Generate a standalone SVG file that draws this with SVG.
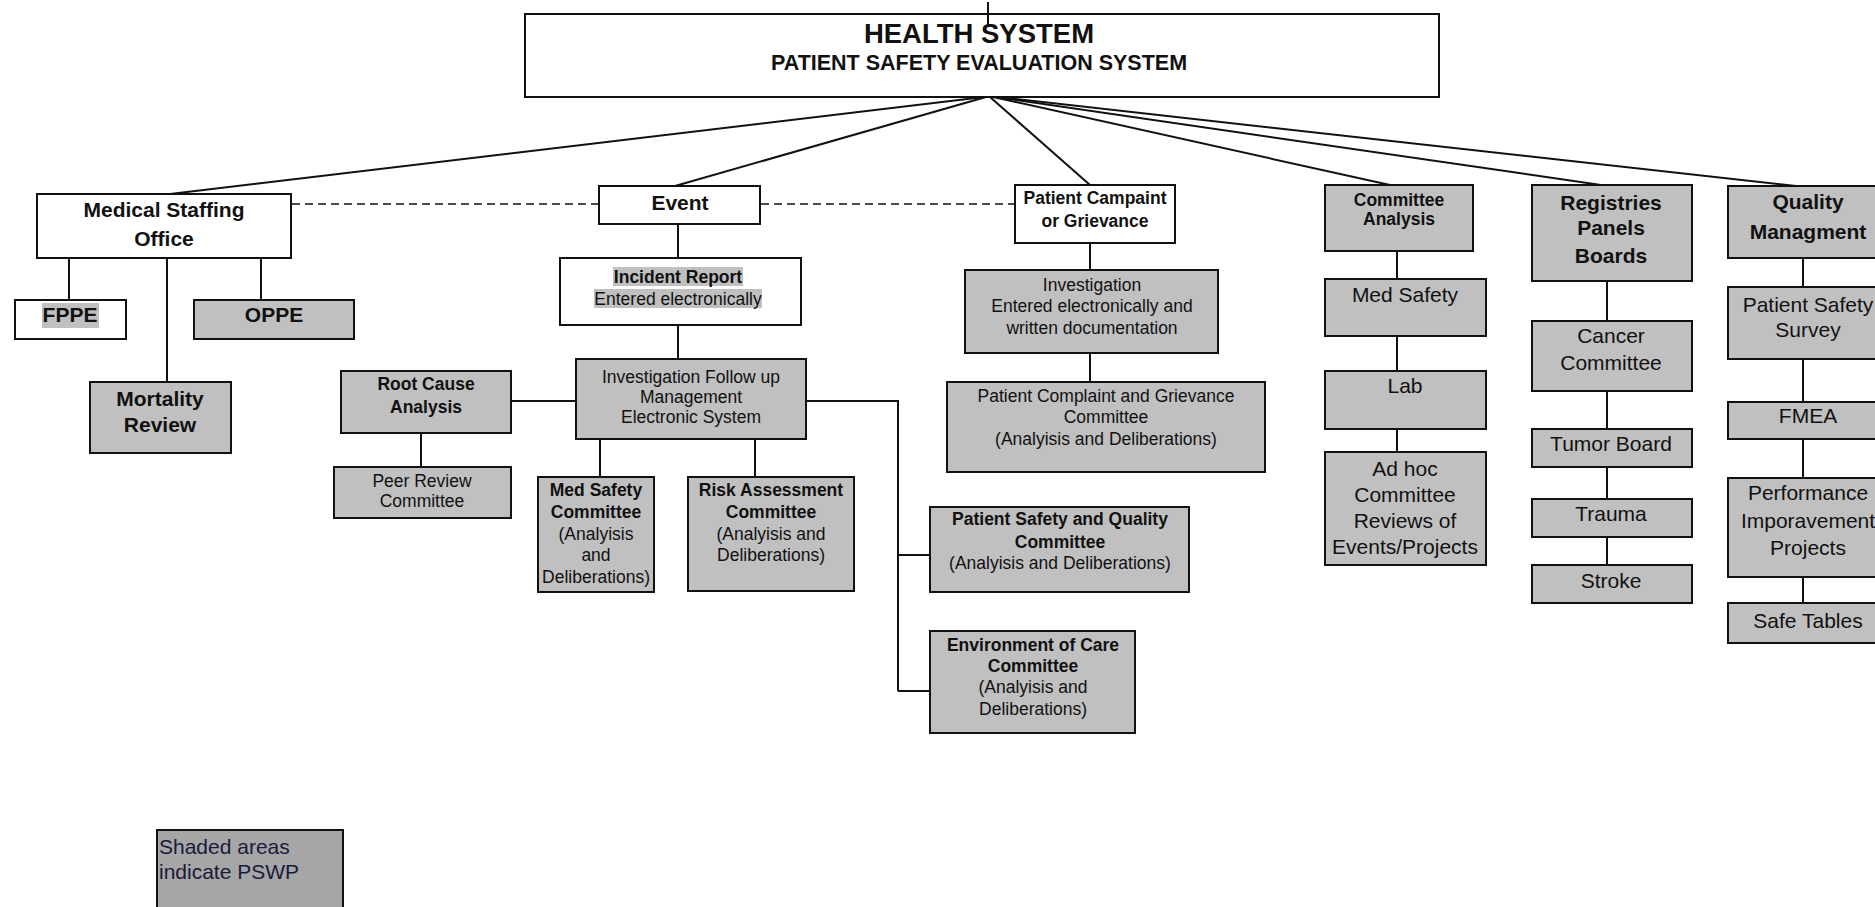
<svg xmlns="http://www.w3.org/2000/svg" width="1875" height="907" viewBox="0 0 1875 907">
  <style>
    .box { stroke: #111; stroke-width: 2; }
    .white { fill: #ffffff; }
    .gray { fill: #c0c0c0; }
    .legend { fill: #a6a6a6; }
    .hl { fill: #c0c0c0; }
    .conn { stroke: #111; stroke-width: 2; fill: none; }
    .dash { stroke: #111; stroke-width: 1.6; fill: none; stroke-dasharray: 8 5; }
    text { font-family: "Liberation Sans", Arial, Helvetica, sans-serif; fill: #111; text-anchor: middle; }
    .b { font-weight: bold; }
    .s { font-size: 17.5px; }
    .m { font-size: 21px; }
    .t1 { font-size: 27.5px; font-weight: bold; }
    .t2 { font-size: 21.5px; font-weight: bold; }
    .leg { text-anchor: start; fill: #1a1a3a; }
  </style>
  <rect width="1875" height="907" fill="#ffffff"/>

  <g id="health-system">
    <rect class="box white" x="525" y="14" width="914" height="83"/>
    <text class="t1" x="979" y="43">HEALTH SYSTEM</text>
    <text class="t2" x="979" y="70">PATIENT SAFETY EVALUATION SYSTEM</text>
  </g>

  <g id="medical-staffing-office">
    <rect class="box white" x="37" y="194" width="254" height="64"/>
    <text class="m b" x="164" y="217">Medical Staffing</text>
    <text class="m b" x="164" y="246">Office</text>
  </g>
  <g id="fppe">
    <rect class="box white" x="15" y="300" width="111" height="39"/>
    <rect class="hl" x="42" y="303" width="57" height="25"/>
    <text class="m b" x="70" y="322">FPPE</text>
  </g>
  <g id="oppe">
    <rect class="box gray" x="194" y="300" width="160" height="39"/>
    <text class="m b" x="274" y="322">OPPE</text>
  </g>
  <g id="mortality-review">
    <rect class="box gray" x="90" y="382" width="141" height="71"/>
    <text class="m b" x="160" y="406">Mortality</text>
    <text class="m b" x="160" y="432">Review</text>
  </g>

  <g id="event">
    <rect class="box white" x="599" y="186" width="161" height="38"/>
    <text class="m b" x="680" y="210">Event</text>
  </g>
  <g id="incident-report">
    <rect class="box white" x="560" y="258" width="241" height="67"/>
    <rect class="hl" x="613" y="267" width="130" height="19"/>
    <rect class="hl" x="594" y="289" width="168" height="19"/>
    <text class="s b" x="678" y="283">Incident Report</text>
    <text class="s" x="678" y="305">Entered electronically</text>
  </g>
  <g id="investigation-follow-up">
    <rect class="box gray" x="576" y="359" width="230" height="80"/>
    <text class="s" x="691" y="383">Investigation Follow up</text>
    <text class="s" x="691" y="403">Management</text>
    <text class="s" x="691" y="423">Electronic System</text>
  </g>
  <g id="root-cause-analysis">
    <rect class="box gray" x="341" y="371" width="170" height="62"/>
    <text class="s b" x="426" y="390">Root Cause</text>
    <text class="s b" x="426" y="413">Analysis</text>
  </g>
  <g id="peer-review-committee">
    <rect class="box gray" x="334" y="467" width="177" height="51"/>
    <text class="s" x="422" y="487">Peer Review</text>
    <text class="s" x="422" y="507">Committee</text>
  </g>
  <g id="med-safety-committee">
    <rect class="box gray" x="538" y="477" width="116" height="115"/>
    <text class="s b" x="596" y="496">Med Safety</text>
    <text class="s b" x="596" y="518">Committee</text>
    <text class="s" x="596" y="540">(Analyisis</text>
    <text class="s" x="596" y="561">and</text>
    <text class="s" x="596" y="583">Deliberations)</text>
  </g>
  <g id="risk-assessment-committee">
    <rect class="box gray" x="688" y="477" width="166" height="114"/>
    <text class="s b" x="771" y="496">Risk Assessment</text>
    <text class="s b" x="771" y="518">Committee</text>
    <text class="s" x="771" y="540">(Analyisis and</text>
    <text class="s" x="771" y="561">Deliberations)</text>
  </g>
  <g id="patient-safety-quality-committee">
    <rect class="box gray" x="930" y="507" width="259" height="85"/>
    <text class="s b" x="1060" y="525">Patient Safety and Quality</text>
    <text class="s b" x="1060" y="548">Committee</text>
    <text class="s" x="1060" y="569">(Analyisis and Deliberations)</text>
  </g>
  <g id="environment-of-care-committee">
    <rect class="box gray" x="930" y="631" width="205" height="102"/>
    <text class="s b" x="1033" y="651">Environment of Care</text>
    <text class="s b" x="1033" y="672">Committee</text>
    <text class="s" x="1033" y="693">(Analyisis and</text>
    <text class="s" x="1033" y="715">Deliberations)</text>
  </g>

  <g id="patient-complaint">
    <rect class="box white" x="1015" y="185" width="160" height="58"/>
    <text class="s b" x="1095" y="204">Patient Campaint</text>
    <text class="s b" x="1095" y="227">or Grievance</text>
  </g>
  <g id="investigation">
    <rect class="box gray" x="965" y="270" width="253" height="83"/>
    <text class="s" x="1092" y="291">Investigation</text>
    <text class="s" x="1092" y="312">Entered electronically and</text>
    <text class="s" x="1092" y="334">written documentation</text>
  </g>
  <g id="complaint-grievance-committee">
    <rect class="box gray" x="947" y="382" width="318" height="90"/>
    <text class="s" x="1106" y="402">Patient Complaint and Grievance</text>
    <text class="s" x="1106" y="423">Committee</text>
    <text class="s" x="1106" y="445">(Analyisis and Deliberations)</text>
  </g>

  <g id="committee-analysis">
    <rect class="box gray" x="1325" y="185" width="148" height="66"/>
    <text class="s b" x="1399" y="206">Committee</text>
    <text class="s b" x="1399" y="225">Analysis</text>
  </g>
  <g id="med-safety">
    <rect class="box gray" x="1325" y="279" width="161" height="57"/>
    <text class="m" x="1405" y="302">Med Safety</text>
  </g>
  <g id="lab">
    <rect class="box gray" x="1325" y="371" width="161" height="58"/>
    <text class="m" x="1405" y="393">Lab</text>
  </g>
  <g id="ad-hoc-committee">
    <rect class="box gray" x="1325" y="452" width="161" height="113"/>
    <text class="m" x="1405" y="476">Ad hoc</text>
    <text class="m" x="1405" y="502">Committee</text>
    <text class="m" x="1405" y="528">Reviews of</text>
    <text class="m" x="1405" y="554">Events/Projects</text>
  </g>

  <g id="registries">
    <rect class="box gray" x="1532" y="185" width="160" height="96"/>
    <text class="m b" x="1611" y="210">Registries</text>
    <text class="m b" x="1611" y="235">Panels</text>
    <text class="m b" x="1611" y="263">Boards</text>
  </g>
  <g id="cancer-committee">
    <rect class="box gray" x="1532" y="321" width="160" height="70"/>
    <text class="m" x="1611" y="343">Cancer</text>
    <text class="m" x="1611" y="370">Committee</text>
  </g>
  <g id="tumor-board">
    <rect class="box gray" x="1532" y="429" width="160" height="38"/>
    <text class="m" x="1611" y="451">Tumor Board</text>
  </g>
  <g id="trauma">
    <rect class="box gray" x="1532" y="499" width="160" height="38"/>
    <text class="m" x="1611" y="521">Trauma</text>
  </g>
  <g id="stroke">
    <rect class="box gray" x="1532" y="565" width="160" height="38"/>
    <text class="m" x="1611" y="588">Stroke</text>
  </g>

  <g id="quality-management">
    <rect class="box gray" x="1728" y="186" width="160" height="72"/>
    <text class="m b" x="1808" y="209">Quality</text>
    <text class="m b" x="1808" y="239">Managment</text>
  </g>
  <g id="patient-safety-survey">
    <rect class="box gray" x="1728" y="287" width="160" height="72"/>
    <text class="m" x="1808" y="312">Patient Safety</text>
    <text class="m" x="1808" y="337">Survey</text>
  </g>
  <g id="fmea">
    <rect class="box gray" x="1728" y="402" width="160" height="37"/>
    <text class="m" x="1808" y="423">FMEA</text>
  </g>
  <g id="performance-improvement">
    <rect class="box gray" x="1728" y="478" width="160" height="99"/>
    <text class="m" x="1808" y="500">Performance</text>
    <text class="m" x="1808" y="528">Imporavement</text>
    <text class="m" x="1808" y="555">Projects</text>
  </g>
  <g id="safe-tables">
    <rect class="box gray" x="1728" y="603" width="160" height="40"/>
    <text class="m" x="1808" y="628">Safe Tables</text>
  </g>

  <g id="legend">
    <rect class="box legend" x="157" y="830" width="186" height="90"/>
    <text class="m leg" x="159" y="854">Shaded areas</text>
    <text class="m leg" x="159" y="879">indicate PSWP</text>
  </g>

  <!-- connectors, drawn last so the stub above the title runs into its box -->
  <g id="connectors">
    <line class="conn" x1="988" y1="2" x2="988" y2="26" stroke-width="1.4"/>
    <line class="conn" x1="984" y1="97" x2="170" y2="194"/>
    <line class="conn" x1="986" y1="97" x2="675" y2="186"/>
    <line class="conn" x1="990" y1="97" x2="1090" y2="185"/>
    <line class="conn" x1="993" y1="97" x2="1390" y2="185"/>
    <line class="conn" x1="995" y1="97" x2="1601" y2="185"/>
    <line class="conn" x1="997" y1="97" x2="1796" y2="186"/>
    <path class="dash" d="M292 204 H598"/>
    <path class="dash" d="M761 204 H1014"/>
    <path class="conn" d="M69 259 V299 M167 259 V381 M261 259 V299"/>
    <path class="conn" d="M678 225 V257 M678 326 V358"/>
    <path class="conn" d="M512 401 H575 M421 434 V466"/>
    <path class="conn" d="M600 440 V476 M755 440 V476"/>
    <path class="conn" d="M807 401 H898 V691 M898 555 H929 M898 691 H929"/>
    <path class="conn" d="M1090 244 V269 M1090 354 V381"/>
    <path class="conn" d="M1397 252 V278 M1397 337 V370 M1397 430 V451"/>
    <path class="conn" d="M1607 282 V320 M1607 392 V428 M1607 468 V498 M1607 538 V564"/>
    <path class="conn" d="M1803 259 V286 M1803 360 V401 M1803 440 V477 M1803 578 V602"/>
  </g>
</svg>
